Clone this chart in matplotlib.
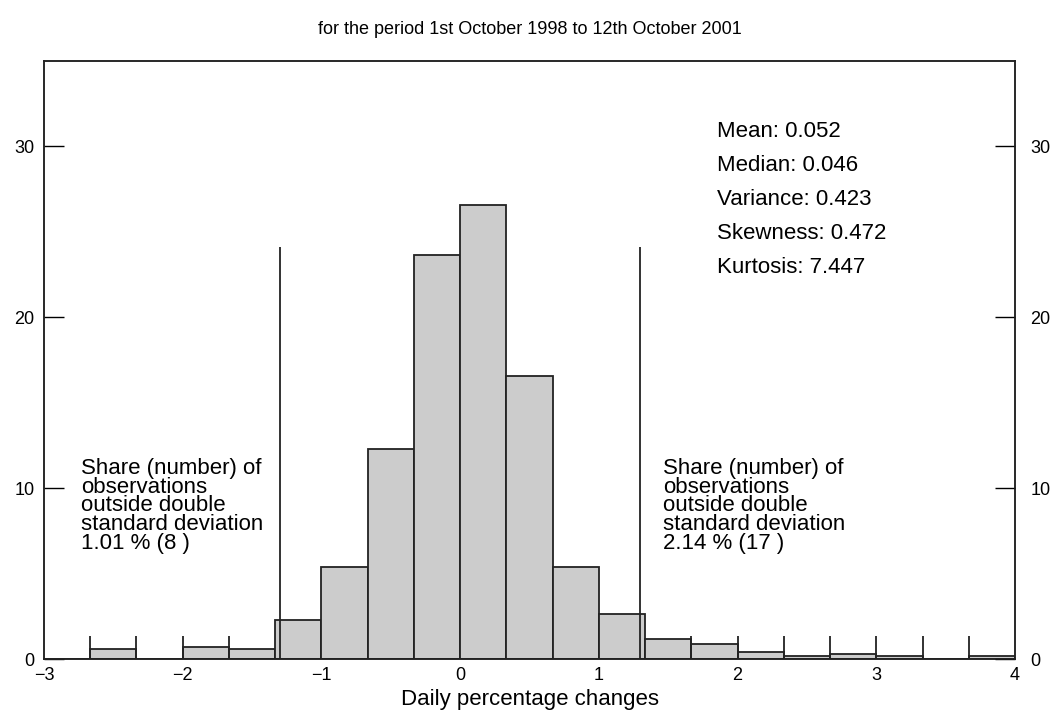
import matplotlib.pyplot as plt
import numpy as np

plt.rcParams['font.family'] = ['Liberation Sans', 'DejaVu Sans']

# histogram of daily percentage changes (share of observations, %)
bin_edges = np.linspace(-3, 4, 22)
shares = [0.0, 0.59, 0.0, 0.69, 0.59, 2.31, 5.40, 12.32, 23.63, 26.59, 16.59,
          5.36, 2.61, 1.15, 0.88, 0.43, 0.16, 0.30, 0.16, 0.0, 0.16]

# small marker lines at bin edges of the thin tail bars
marker_edges = [-8/3, -7/3, -2, -5/3, 5/3, 2, 7/3, 8/3, 3, 10/3, 11/3]
marker_height = 1.35

# double standard deviation bounds
sd_bounds = [-1.30, 1.30]
sd_line_top = 24.1

stats_labels = ['Mean: 0.052', 'Median: 0.046', 'Variance: 0.423',
                'Skewness: 0.472', 'Kurtosis: 7.447']
left_note = ('Share (number) of\nobservations\noutside double\n'
             'standard deviation\n1.01 % (8 )')
right_note = ('Share (number) of\nobservations\noutside double\n'
              'standard deviation\n2.14 % (17 )')

x_ticks = [-3, -2, -1, 0, 1, 2, 3, 4]
y_ticks = [0, 10, 20, 30]

fig = plt.figure(figsize=(10.53, 7.13), dpi=100)
ax = fig.add_axes([0.0418, 0.0757, 0.9221, 0.8387])

widths = np.diff(bin_edges)
ax.bar(bin_edges[:-1], shares, width=widths, align='edge',
       color='#cccccc', edgecolor='#222222', linewidth=1.3)
ax.vlines(marker_edges, 0, marker_height, color='#222222', linewidth=1.3)
ax.vlines(sd_bounds, 0, sd_line_top, color='#222222', linewidth=1.3)

for i, s in enumerate(stats_labels):
    ax.text(1.855, 30.9 - 2.0 * i, s, fontsize=16, va='center', ha='left')

ax.text(-2.73, 11.75, left_note, fontsize=16, va='top', ha='left',
        linespacing=0.85)
ax.text(1.46, 11.75, right_note, fontsize=16, va='top', ha='left',
        linespacing=0.85)

ax.set_xlim(-3, 4)
ax.set_ylim(0, 35)
ax.set_xticks(x_ticks)
ax.set_xticklabels(['\u2212' + str(-t) if t < 0 else str(t) for t in x_ticks])
ax.set_yticks(y_ticks)
ax.tick_params(axis='x', length=0, pad=6, labelsize=13)
ax.tick_params(axis='y', direction='in', length=14.5, width=1.0,
               labelsize=13, pad=7)

# right-hand scale (same values, labels a bit further from the frame)
ax2 = ax.twinx()
ax2.set_ylim(ax.get_ylim())
ax2.set_yticks(y_ticks)
ax2.tick_params(axis='y', direction='in', length=14.5, width=1.0,
                labelsize=13, pad=11)

for a in (ax, ax2):
    for sp in a.spines.values():
        sp.set_linewidth(1.1)
        sp.set_color('#222222')

ax.set_xlabel('Daily percentage changes', fontsize=16, labelpad=3)
fig.text(0.503, 0.958, 'for the period 1st October 1998 to 12th October 2001',
         fontsize=13, ha='center', va='center')

fig.savefig('out.png', dpi=100)
